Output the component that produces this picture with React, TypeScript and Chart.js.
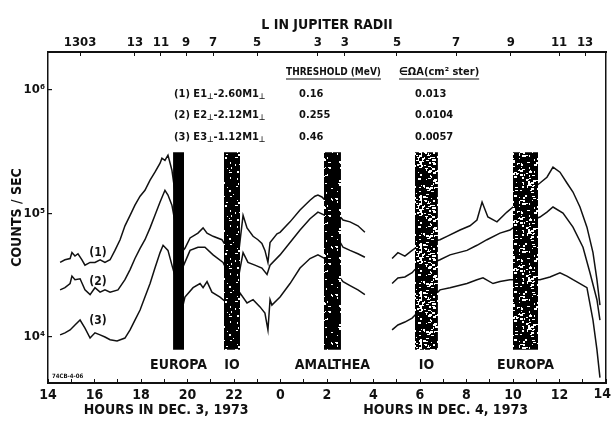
import React, { useEffect, useRef } from 'react';
import { Chart, registerables } from 'chart.js';

Chart.register(...registerables);

const FONT = '"Liberation Sans Narrow", "DejaVu Sans Condensed", "Roboto Condensed", sans-serif';
const INK = '#111';

// Time in hours counted from 00h Dec 3, 1973 (values >= 24 belong to Dec 4)
const hours1 = [14.52, 14.73, 14.95, 15.03, 15.16, 15.29, 15.46, 15.59, 15.81, 16.02, 16.24, 16.45, 16.67, 16.88, 17.10, 17.31, 17.53, 17.74, 17.96, 18.17, 18.39, 18.60, 18.82, 18.90, 19.03, 19.16, 19.33, 19.81, 19.89, 20.11, 20.45, 20.67, 20.84, 21.10, 21.48, 21.83, 22.09, 22.39, 22.56, 22.82, 23.03, 23.20, 23.33, 23.46, 23.55, 23.85, 23.98, 24.41, 24.84, 25.27, 25.48, 25.61, 25.78, 26.13, 26.69, 26.99, 27.33, 27.63, 28.2, 28.80, 29.05, 29.35, 29.66, 29.78, 30.30, 30.86, 31.16, 31.72, 32.15, 32.45, 32.67, 32.92, 33.31, 33.74, 34.00, 34.50, 35.16, 35.46, 35.72, 36.02, 36.32, 36.58, 36.88, 37.18, 37.44, 37.61, 37.74];
const counts1 = [4.0e4, 4.2e4, 4.3e4, 4.8e4, 4.5e4, 4.7e4, 4.2e4, 3.8e4, 4.0e4, 4.0e4, 4.2e4, 4.0e4, 4.2e4, 5.0e4, 6.1e4, 7.9e4, 9.6e4, 1.16e5, 1.37e5, 1.53e5, 1.85e5, 2.14e5, 2.53e5, 2.78e5, 2.67e5, 2.94e5, 2.22e5, 5.0e4, 5.2e4, 6.3e4, 6.9e4, 7.6e4, 6.9e4, 6.5e4, 6.1e4, 4.8e4, 3.2e4, 9.6e4, 7.6e4, 6.5e4, 6.1e4, 5.7e4, 5.0e4, 4.0e4, 5.8e4, 6.8e4, 7.0e4, 8.5e4, 1.06e5, 1.27e5, 1.37e5, 1.40e5, 1.35e5, 1.16e5, 8.8e4, 8.5e4, 7.9e4, 7.0e4, null, 4.3e4, 4.8e4, 4.5e4, 5.0e4, 5.2e4, 5.8e4, 6.1e4, 6.5e4, 7.3e4, 7.9e4, 8.8e4, 1.23e5, 9.3e4, 8.5e4, 1.02e5, 1.12e5, 1.40e5, 1.75e5, 1.95e5, 2.35e5, 2.14e5, 1.75e5, 1.48e5, 1.12e5, 7.7e4, 4.8e4, 2.9e4, 1.81e4];

const hours2 = [14.52, 14.73, 14.95, 15.03, 15.16, 15.38, 15.59, 15.81, 16.02, 16.24, 16.45, 16.67, 17.01, 17.31, 17.53, 17.74, 17.96, 18.17, 18.39, 18.60, 18.82, 19.03, 19.16, 19.33, 19.81, 20.11, 20.45, 20.75, 21.10, 21.53, 21.83, 22.09, 22.39, 22.60, 22.90, 23.20, 23.42, 23.55, 23.98, 24.41, 24.84, 25.27, 25.61, 25.91, 26.69, 26.99, 27.33, 27.63, 28.2, 28.80, 29.05, 29.35, 29.66, 29.78, 30.86, 31.29, 32.02, 32.45, 32.88, 33.44, 33.87, 34.00, 35.16, 35.46, 35.72, 36.15, 36.58, 37.01, 37.31, 37.61, 37.74];
const counts2 = [2.4e4, 2.5e4, 2.7e4, 3.1e4, 2.9e4, 2.95e4, 2.4e4, 2.2e4, 2.5e4, 2.3e4, 2.4e4, 2.3e4, 2.4e4, 2.9e4, 3.5e4, 4.3e4, 5.2e4, 6.1e4, 7.6e4, 9.6e4, 1.23e5, 1.53e5, 1.40e5, 1.16e5, 3.7e4, 5.0e4, 5.3e4, 5.3e4, 4.6e4, 4.0e4, 3.05e4, 2.4e4, 4.8e4, 4.0e4, 3.8e4, 3.6e4, 3.2e4, 3.8e4, 4.6e4, 5.8e4, 7.3e4, 9.0e4, 1.02e5, 9.6e4, 5.3e4, 5.0e4, 4.7e4, 4.4e4, null, 2.7e4, 3.0e4, 3.05e4, 3.3e4, 3.5e4, 4.2e4, 4.6e4, 5.0e4, 5.5e4, 6.1e4, 6.9e4, 7.3e4, 7.6e4, 9.3e4, 1.02e5, 1.12e5, 1.0e5, 7.7e4, 5.3e4, 3.3e4, 2.0e4, 1.37e4];

const hours3 = [14.52, 14.73, 14.95, 15.16, 15.38, 15.59, 15.81, 16.02, 16.24, 16.45, 16.67, 16.97, 17.31, 17.53, 17.74, 17.96, 18.17, 18.39, 18.60, 18.82, 18.95, 19.16, 19.33, 19.81, 19.89, 20.24, 20.54, 20.67, 20.84, 21.05, 21.40, 21.70, 22.09, 22.26, 22.56, 22.82, 23.12, 23.33, 23.46, 23.55, 23.63, 23.98, 24.41, 24.84, 25.27, 25.61, 25.91, 26.69, 26.99, 27.33, 27.63, 28.2, 28.80, 29.05, 29.35, 29.66, 29.78, 30.86, 31.29, 32.02, 32.45, 32.71, 33.14, 33.44, 33.87, 35.16, 35.59, 36.02, 36.32, 36.58, 36.88, 37.18, 37.44, 37.61, 37.74];
const counts3 = [1.04e4, 1.08e4, 1.14e4, 1.25e4, 1.37e4, 1.18e4, 9.8e3, 1.08e4, 1.04e4, 1.0e4, 9.5e3, 9.3e3, 9.8e3, 1.14e4, 1.37e4, 1.65e4, 2.1e4, 2.7e4, 3.6e4, 4.8e4, 5.5e4, 5.0e4, 3.8e4, 1.81e4, 2.1e4, 2.5e4, 2.7e4, 2.5e4, 2.8e4, 2.3e4, 2.1e4, 1.88e4, 1.65e4, 2.26e4, 1.88e4, 2.0e4, 1.75e4, 1.56e4, 1.14e4, 2.0e4, 1.81e4, 2.1e4, 2.7e4, 3.6e4, 4.3e4, 4.6e4, 4.3e4, 2.8e4, 2.6e4, 2.4e4, 2.2e4, null, 1.14e4, 1.25e4, 1.32e4, 1.42e4, 1.5e4, 2.4e4, 2.5e4, 2.7e4, 2.9e4, 3.0e4, 2.7e4, 2.8e4, 2.9e4, 2.9e4, 3.05e4, 3.3e4, 3.1e4, 2.9e4, 2.7e4, 2.5e4, 1.37e4, 7.9e3, 4.7e3];

// Satellite L-shell crossing bands
const bandNames = ['EUROPA', 'IO', 'AMALTHEA', 'IO', 'EUROPA'];
const bandStart = [19.38, 21.57, 25.87, 29.78, 34.0];
const bandEnd = [19.85, 22.26, 26.6, 30.77, 35.08];
const bandTop = 3.1e5;
const bandBottom = 7.9e3;

// Axes
const xTickHours = [14, 15, 16, 17, 18, 19, 20, 21, 22, 23, 24, 25, 26, 27, 28, 29, 30, 31, 32, 33, 34, 35, 36, 37, 38];
const yTickValues = [1e4, 1e5, 1e6];
const lTickHours = [15.38, 17.74, 18.86, 19.94, 21.1, 22.99, 25.61, 26.77, 29.01, 31.55, 33.91, 35.98, 37.1];
const lTickLabels = ['1303', '13', '11', '9', '7', '5', '3', '3', '5', '7', '9', '11', '13'];

// Detector table
const channelNames = ['E1', 'E2', 'E3'];
const channelCoefs = ['2.60', '2.12', '1.12'];
const thresholds = ['0.16', '0.255', '0.46'];
const geomFactors = ['0.013', '0.0104', '0.0057'];
const curveLabels = ['(1)', '(2)', '(3)'];

const SUP: Record<number, string> = { 4: '\u2074', 5: '\u2075', 6: '\u2076' };

// deterministic speckle texture for the scanned-looking bands (style only)
function makeSpeckle(frac: number, seed: number): CanvasPattern | string {
  const W = 26;
  const H = 48;
  const c = document.createElement('canvas');
  c.width = W;
  c.height = H;
  const g = c.getContext('2d');
  if (!g) return '#000';
  g.fillStyle = '#000';
  g.fillRect(0, 0, W, H);
  g.fillStyle = '#fff';
  let s = seed;
  const next = () => {
    s = (s * 1103515245 + 12345) % 2147483648;
    return s / 2147483648;
  };
  const n = Math.round((frac * W * H) / 4);
  for (let i = 0; i < n; i++) {
    const x = Math.floor(next() * W);
    const y = Math.floor(next() * H);
    const w = 1 + Math.floor(next() * 3);
    const h = 1 + Math.floor(next() * 2);
    g.fillRect(x, y, w, h);
  }
  return g.createPattern(c, 'repeat') || '#000';
}

function f(size: number) {
  return `bold ${size}px ${FONT}`;
}

function drawParts(ctx: CanvasRenderingContext2D, x: number, y: number, parts: [string, boolean][], size: number) {
  let cx = x;
  for (const [t, sub] of parts) {
    ctx.font = f(sub ? size - 3 : size);
    ctx.fillText(t, cx, sub ? y + 3 : y);
    cx += ctx.measureText(t).width;
  }
  return cx;
}

const annotPlugin = {
  id: 'annot',
  afterDraw(chart: any) {
    const { ctx, scales } = chart;
    const xs = scales.x;
    ctx.save();
    ctx.fillStyle = INK;
    ctx.strokeStyle = INK;
    ctx.textBaseline = 'middle';

    // table header
    ctx.textAlign = 'left';
    ctx.font = f(10);
    const h1 = 'THRESHOLD (MeV)';
    ctx.fillText(h1, 286, 72);
    let w = ctx.measureText(h1).width;
    ctx.lineWidth = 1.2;
    ctx.beginPath();
    ctx.moveTo(286, 79);
    ctx.lineTo(286 + w, 79);
    ctx.stroke();
    ctx.font = f(11);
    const h2 = '\u2208\u03A9A(cm\u00B2 ster)';
    ctx.fillText(h2, 399, 72);
    w = ctx.measureText(h2).width;
    ctx.beginPath();
    ctx.moveTo(399, 79);
    ctx.lineTo(399 + w, 79);
    ctx.stroke();

    const rowY = [94, 115, 137];
    for (let i = 0; i < 3; i++) {
      drawParts(ctx, 174, rowY[i], [
        [`(${i + 1}) ${channelNames[i]}`, false],
        ['\u22A5', true],
        [`-${channelCoefs[i]}M1`, false],
        ['\u22A5', true],
      ], 11);
      ctx.font = f(11);
      ctx.fillText(thresholds[i], 299, rowY[i]);
      ctx.fillText(geomFactors[i], 415, rowY[i]);
    }

    // curve labels
    ctx.textAlign = 'center';
    ctx.font = f(12);
    const lx = xs.getPixelForValue(16.15);
    const ly = [253, 282, 321];
    curveLabels.forEach((t, i) => ctx.fillText(t, lx, ly[i]));

    // moon labels
    ctx.font = f(14);
    bandNames.forEach((n, i) => {
      ctx.fillText(n, xs.getPixelForValue((bandStart[i] + bandEnd[i]) / 2), 365);
    });

    // last hour label, kept inside the canvas
    ctx.textAlign = 'right';
    ctx.textBaseline = 'top';
    ctx.font = f(14);
    ctx.fillText(String(xTickHours[xTickHours.length - 1] % 24), 611, 387);

    // bottom titles
    ctx.textAlign = 'center';
    ctx.textBaseline = 'middle';
    ctx.font = f(14);
    ctx.fillText('HOURS IN DEC. 3, 1973', xs.getPixelForValue(19.08), 410);
    ctx.fillText('HOURS IN DEC. 4, 1973', xs.getPixelForValue(31.1), 410);

    // plate id
    ctx.textAlign = 'left';
    ctx.font = f(6);
    ctx.fillText('74CB-4-06', 52, 376);
    ctx.restore();
  },
};

export default function App() {
  const ref = useRef<HTMLCanvasElement | null>(null);

  useEffect(() => {
    if (!ref.current) return;
    const densities = [0, 0.1, 0.16, 0.32, 0.28];
    const lineSets = [
      [hours1, counts1],
      [hours2, counts2],
      [hours3, counts3],
    ].map(([h, c]) => ({
      type: 'line' as const,
      data: (h as number[]).map((x, i) => ({ x, y: (c as (number | null)[])[i] })),
      borderColor: INK,
      borderWidth: 1.5,
      pointRadius: 0,
      tension: 0,
      spanGaps: false,
      fill: false,
      order: 2,
    }));
    const bandSets: any[] = [];
    bandNames.forEach((_, i) => {
      bandSets.push({
        type: 'line',
        data: [{ x: bandStart[i], y: bandTop }, { x: bandEnd[i], y: bandTop }],
        borderWidth: 0,
        pointRadius: 0,
        backgroundColor: makeSpeckle(densities[i], 17 + i * 101),
        fill: '+1',
        order: 1,
      });
      bandSets.push({
        type: 'line',
        data: [{ x: bandStart[i], y: bandBottom }, { x: bandEnd[i], y: bandBottom }],
        borderWidth: 0,
        pointRadius: 0,
        fill: false,
        order: 1,
      });
    });

    const tickFont = (size: number) => ({ family: FONT, size, weight: 'bold' as const });
    const lastHour = xTickHours[xTickHours.length - 1];

    const chart = new Chart(ref.current, {
      type: 'line',
      data: { datasets: [...lineSets, ...bandSets] },
      plugins: [annotPlugin],
      options: {
        animation: false,
        responsive: false,
        devicePixelRatio: 1,
        layout: { padding: 0 },
        plugins: { legend: { display: false }, tooltip: { enabled: false } },
        scales: {
          x: {
            type: 'linear',
            position: 'bottom',
            min: 14,
            max: 38,
            afterBuildTicks: (s: any) => { s.ticks = xTickHours.map((v) => ({ value: v })); },
            afterFit: (s: any) => { s.height = 47; s.paddingLeft = 0; s.paddingRight = 0; },
            ticks: {
              autoSkip: false,
              maxRotation: 0,
              padding: 8,
              color: INK,
              font: tickFont(14),
              callback: (v: any) => {
                const n = Number(v);
                if (n === lastHour) return '';
                return n % 2 === 0 ? String(n % 24) : '';
              },
            },
            grid: { drawOnChartArea: false, drawTicks: true, tickLength: -4, color: INK, lineWidth: 1 },
            border: { color: INK, width: 2 },
          },
          x2: {
            type: 'linear',
            position: 'top',
            min: 14,
            max: 38,
            afterBuildTicks: (s: any) => { s.ticks = lTickHours.map((v) => ({ value: v })); },
            afterFit: (s: any) => { s.height = 52; s.paddingLeft = 0; s.paddingRight = 0; },
            ticks: {
              autoSkip: false,
              maxRotation: 0,
              padding: 6,
              color: INK,
              font: tickFont(13),
              callback: (_v: any, i: number) => lTickLabels[i],
            },
            grid: { drawOnChartArea: false, drawTicks: true, tickLength: -4, color: INK, lineWidth: 1 },
            border: { color: INK, width: 2 },
            title: {
              display: true,
              text: 'L IN JUPITER RADII',
              color: INK,
              font: tickFont(14),
              padding: { top: 17, bottom: 0 },
            },
          },
          y: {
            type: 'logarithmic',
            position: 'left',
            min: 4250,
            max: 2.0e6,
            afterBuildTicks: (s: any) => { s.ticks = yTickValues.map((v) => ({ value: v })); },
            afterFit: (s: any) => { s.width = 48; s.paddingTop = 0; s.paddingBottom = 0; },
            ticks: {
              padding: 7,
              color: INK,
              font: tickFont(13),
              callback: (v: any) => '10' + SUP[Math.round(Math.log10(Number(v)))],
            },
            grid: { drawOnChartArea: false, drawTicks: true, tickLength: -4, color: INK, lineWidth: 1.2 },
            border: { color: INK, width: 1.5, dash: [2, 3] },
            title: {
              display: true,
              text: 'COUNTS / SEC',
              color: INK,
              font: tickFont(14),
              padding: { top: 9, bottom: 0 },
            },
          },
          yr: {
            type: 'logarithmic',
            position: 'right',
            min: 4250,
            max: 2.0e6,
            afterFit: (s: any) => { s.width = 5; },
            ticks: { display: false },
            grid: { drawOnChartArea: false, drawTicks: false },
            border: { color: INK, width: 1.5, dash: [2, 3] },
          },
        },
      } as any,
    });
    return () => chart.destroy();
  }, []);

  return (
    <div style={{ position: 'absolute', left: 0, top: 0, width: 611, height: 430, background: '#fff' }}>
      <canvas ref={ref} width={611} height={430} style={{ width: 611, height: 430, display: 'block' }} />
    </div>
  );
}
